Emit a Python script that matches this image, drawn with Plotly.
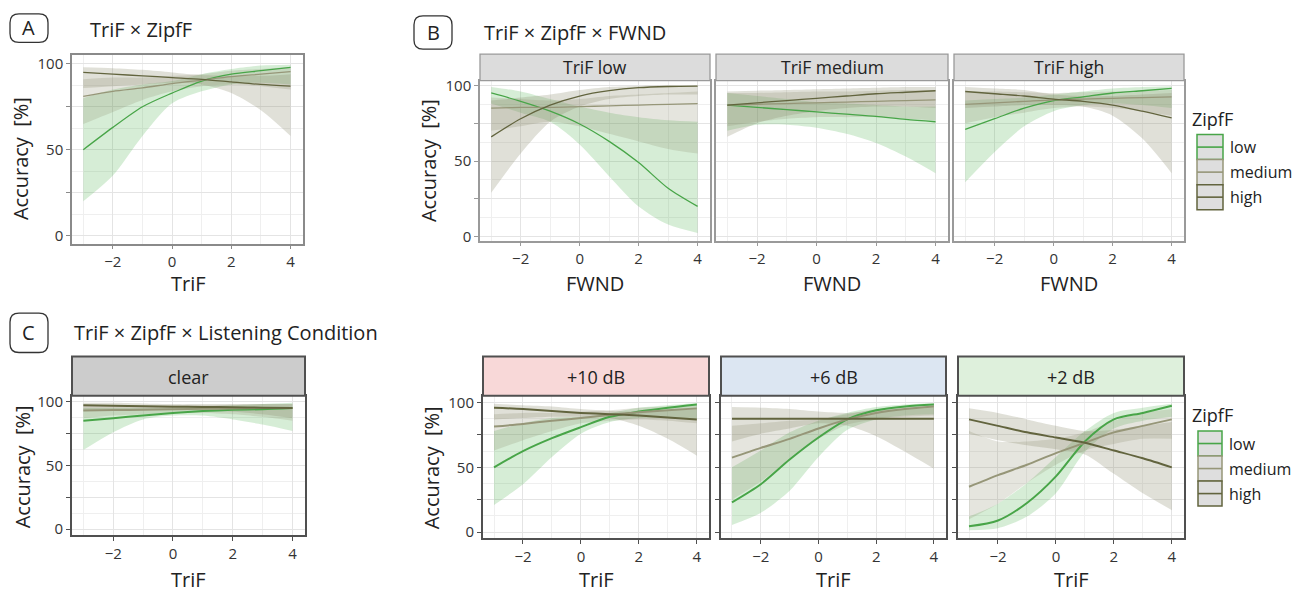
import plotly.graph_objects as go

# ---------------- data ----------------
X = [-3, -2, -1, 0, 1, 2, 3, 4]
groups = ["low", "medium", "high"]

# Panel A: TriF x ZipfF
A_low = [50, 63, 75, 83, 90, 94, 96, 98]
A_low_lo = [20, 35, 58, 77, 84, 88, 89, 88]
A_low_hi = [80, 85, 88, 90, 94, 97, 99, 99.5]
A_med = [81, 84, 86, 88.5, 90.5, 92.5, 94, 95.5]
A_med_lo = [65, 72, 79, 84, 87, 88, 87, 85]
A_med_hi = [91, 92, 92, 93, 94, 96, 97, 98]
A_high = [95, 94, 93, 92, 91, 89.5, 88, 87]
A_high_lo = [86, 87, 88, 89, 88, 83, 73, 58]
A_high_hi = [98, 97.5, 96.5, 95, 93.5, 93, 93, 94]

# Panel B: TriF low / medium / high (x = FWND)
B1_low = [95, 89.5, 83, 74.5, 63, 49, 32, 20]
B1_low_lo = [88, 82, 76, 61, 40, 20, 8, 2.5]
B1_low_hi = [99, 96, 91, 86, 82, 79, 77, 76]
B1_med = [85, 85.5, 85.5, 86, 86.5, 87, 87.5, 88]
B1_med_lo = [70, 73, 76, 73, 68, 63, 58, 55]
B1_med_hi = [92, 91, 90, 91, 93, 94, 95, 96]
B1_high = [66, 78, 87, 93, 96.5, 98.5, 99.3, 99.6]
B1_high_lo = [29, 55, 76, 86, 91, 93, 94, 94]
B1_high_hi = [90, 92, 94, 97, 99, 99.7, 100, 100]

B2_low = [87, 85.5, 84, 82.5, 81, 79.5, 77.5, 76]
B2_low_lo = [70, 74, 74, 72, 68, 62, 53, 42]
B2_low_hi = [95, 93, 91, 89, 88, 87, 86, 86]
B2_med = [87, 87.5, 88, 88.5, 89, 89.5, 90, 90.5]
B2_med_lo = [73, 76, 78, 79, 79, 79, 78, 77]
B2_med_hi = [95, 95, 95.5, 96, 96, 96.5, 97, 97]
B2_high = [87, 88.5, 90, 91.5, 93, 94.5, 95.5, 96.5]
B2_high_lo = [66, 75, 80, 83, 85, 86, 86, 85]
B2_high_hi = [96, 96.5, 97, 97.5, 98, 98.5, 99, 99]

B3_low = [71, 78, 85, 90, 92.5, 95, 96.5, 98]
B3_low_lo = [36, 56, 73, 83, 87, 88, 87, 85]
B3_low_hi = [90, 91, 92, 94, 96, 98, 99, 99.5]
B3_med = [87.5, 88.5, 89.5, 90.5, 91, 91.5, 92, 92.5]
B3_med_lo = [75, 79, 82, 85, 86, 85, 83, 80]
B3_med_hi = [96, 96, 95.5, 95, 95.5, 96, 96.5, 97]
B3_high = [96, 94.5, 93, 91, 89.5, 87, 83, 78.5]
B3_high_lo = [85, 86, 87, 87, 86, 80, 65, 42]
B3_high_hi = [99, 98, 97, 94, 93, 93, 94, 95]

# Panel C: clear / +10 dB / +6 dB / +2 dB (x = TriF)
C1_low = [85, 87, 89, 91, 92.5, 93.5, 94, 95]
C1_low_lo = [62, 76, 86, 89, 89, 86, 82, 77]
C1_low_hi = [95, 95, 95, 95, 96, 97, 98, 99]
C1_med = [93, 93.3, 93.6, 94, 94.3, 94.6, 95, 95]
C1_med_lo = [87, 89, 90, 91, 91, 90, 88, 85]
C1_med_hi = [97, 97, 97, 97, 97, 97.5, 98, 98]
C1_high = [97, 96.7, 96.4, 96, 95.8, 95.5, 95.2, 95]
C1_high_lo = [93, 94, 94, 94, 93, 92, 90, 87]
C1_high_hi = [99, 99, 98.5, 98, 98, 98, 98, 98]

C2_low = [50, 62.5, 72.5, 81, 89, 93, 96, 98.5]
C2_low_lo = [21, 37, 58, 76, 85, 88, 88, 87]
C2_low_hi = [78, 84, 88, 89, 92, 96, 98, 99.5]
C2_med = [81.5, 83.5, 86, 88, 90.5, 92.5, 94, 95.5]
C2_med_lo = [63, 71, 78, 84, 86, 87, 86, 84]
C2_med_hi = [91, 92, 92, 93, 94, 96, 97, 98]
C2_high = [96, 95, 93.5, 92, 91, 90, 88.5, 87]
C2_high_lo = [87, 88, 89, 89, 88, 82, 72, 59]
C2_high_hi = [99, 98, 97, 95, 93.5, 93, 94, 95]

C3_low = [23, 37, 56, 73, 87, 94, 97, 98.5]
C3_low_lo = [5.5, 15, 32, 58, 79, 87, 90, 91]
C3_low_hi = [50, 63, 77, 86, 92, 96.5, 98.5, 99.5]
C3_med = [57.5, 65, 72, 80, 87, 92, 95, 97]
C3_med_lo = [25, 39, 56, 72, 83, 87, 89, 90]
C3_med_hi = [82, 84, 86, 87, 91, 95, 97, 98.5]
C3_high = [87.5, 87.5, 87.5, 87.5, 87.5, 87.5, 87.5, 87.5]
C3_high_lo = [70, 76, 80, 84, 82, 74, 62, 49]
C3_high_hi = [96.5, 96, 95, 93, 92, 94, 95, 96]

C4_low = [4.5, 9, 22.5, 43, 70, 87, 92, 97.5]
C4_low_lo = [1.5, 3, 12, 30, 62, 80, 86, 89]
C4_low_hi = [12, 22, 38, 58, 78, 92, 96, 99]
C4_med = [35, 44, 52, 61, 69, 77, 82, 87]
C4_med_lo = [10, 22, 38, 52, 63, 68, 72, 72]
C4_med_hi = [78, 70, 70, 72, 77, 86, 92, 95]
C4_high = [87, 82, 77, 73, 69, 63, 57, 50]
C4_high_lo = [76, 71, 67, 64, 60, 45, 30, 17]
C4_high_hi = [95.5, 92, 87, 82, 78, 79, 82, 85]

strip_labels_B = ["TriF low", "TriF medium", "TriF high"]
strip_labels_C = ["clear", "+10 dB", "+6 dB", "+2 dB"]

# ---------------- styling ----------------
W, H = 1303, 596
FONT = "Open Sans"
LINE_COL = {"low": "rgb(72,165,72)", "medium": "rgb(150,150,120)", "high": "rgb(98,100,62)"}
FILL_COL = {"low": "rgba(70,175,70,0.22)", "medium": "rgba(135,135,105,0.22)",
            "high": "rgba(135,135,105,0.26)"}


def fx(px):
    return px / W


def fy(py):
    return 1 - py / H


panel_data = {
    "A": [(A_low, A_low_lo, A_low_hi), (A_med, A_med_lo, A_med_hi), (A_high, A_high_lo, A_high_hi)],
    "B1": [(B1_low, B1_low_lo, B1_low_hi), (B1_med, B1_med_lo, B1_med_hi), (B1_high, B1_high_lo, B1_high_hi)],
    "B2": [(B2_low, B2_low_lo, B2_low_hi), (B2_med, B2_med_lo, B2_med_hi), (B2_high, B2_high_lo, B2_high_hi)],
    "B3": [(B3_low, B3_low_lo, B3_low_hi), (B3_med, B3_med_lo, B3_med_hi), (B3_high, B3_high_lo, B3_high_hi)],
    "C1": [(C1_low, C1_low_lo, C1_low_hi), (C1_med, C1_med_lo, C1_med_hi), (C1_high, C1_high_lo, C1_high_hi)],
    "C2": [(C2_low, C2_low_lo, C2_low_hi), (C2_med, C2_med_lo, C2_med_hi), (C2_high, C2_high_lo, C2_high_hi)],
    "C3": [(C3_low, C3_low_lo, C3_low_hi), (C3_med, C3_med_lo, C3_med_hi), (C3_high, C3_high_lo, C3_high_hi)],
    "C4": [(C4_low, C4_low_lo, C4_low_hi), (C4_med, C4_med_lo, C4_med_hi), (C4_high, C4_high_lo, C4_high_hi)],
}

# name: (x0, x1, y0, y1, yrange, ylabels, yticks, border color, border width, line width, tick size)
layout_px = {
    "A": (72, 303, 50, 242, [-4.6, 105.1], True, True, "#8a8a8a", 1.5, 1.3, 15),
    "B1": (480, 710, 76, 239, [-2.6, 103.2], True, True, "#9a9a9a", 1.5, 1.3, 15),
    "B2": (716, 948, 76, 239, [-2.6, 103.2], False, False, "#9a9a9a", 1.5, 1.3, 15),
    "B3": (954, 1184, 76, 239, [-2.6, 103.2], False, False, "#9a9a9a", 1.5, 1.3, 15),
    "C1": (72, 305, 397, 539, [-4.6, 104.6], True, True, "#505050", 2, 2.0, 15),
    "C2": (483, 709, 397, 542, [-4.5, 105.3], True, True, "#505050", 2, 2.0, 15),
    "C3": (721, 946, 397, 542, [-4.5, 105.3], False, True, "#505050", 2, 2.0, 15),
    "C4": (958, 1184, 397, 542, [-4.5, 105.3], False, True, "#505050", 2, 2.0, 15),
}

fig = go.Figure()
lay = {}
for i, (name, spec) in enumerate(layout_px.items(), start=1):
    x0, x1, y0, y1, yr, ylab, ytk, bcol, bw, lw, tks = spec
    xa = "x" if i == 1 else f"x{i}"
    ya = "y" if i == 1 else f"y{i}"
    series = panel_data[name]
    # ribbons
    for g, (m, lo, hi) in zip(groups, series):
        fig.add_trace(go.Scatter(x=X, y=lo, xaxis=xa, yaxis=ya, mode="lines",
                                 line=dict(width=0, shape="spline", smoothing=0.8),
                                 showlegend=False, hoverinfo="skip"))
        fig.add_trace(go.Scatter(x=X, y=hi, xaxis=xa, yaxis=ya, mode="lines",
                                 line=dict(width=0, shape="spline", smoothing=0.8),
                                 fill="tonexty", fillcolor=FILL_COL[g],
                                 showlegend=False, hoverinfo="skip"))
    # mean lines
    for g, (m, lo, hi) in zip(groups, series):
        fig.add_trace(go.Scatter(x=X, y=m, xaxis=xa, yaxis=ya, mode="lines",
                                 line=dict(width=lw, color=LINE_COL[g], shape="spline", smoothing=0.8),
                                 name=g, showlegend=False))
    key = "" if i == 1 else str(i)
    lay["xaxis" + key] = dict(
        domain=[fx(x0), fx(x1)], anchor=ya, range=[-3.38, 4.42],
        tickmode="array", tickvals=[-2, 0, 2, 4], ticks="outside", ticklen=4,
        tickcolor=bcol, tickwidth=1.2, showgrid=True, gridcolor="#e4e4e4", gridwidth=1,
        minor=dict(dtick=1, tick0=0, showgrid=True, gridcolor="#efefef", gridwidth=0.8),
        zeroline=False, showline=True, mirror=True, linecolor=bcol, linewidth=bw,
        tickfont=dict(size=tks, color="#333", family=FONT), fixedrange=True)
    lay["yaxis" + key] = dict(
        domain=[fy(y1), fy(y0)], anchor=xa, range=yr,
        tickmode="array", tickvals=[0, 25, 50, 75, 100], ticktext=["0", "", "50", "", "100"],
        ticks="outside" if ytk else "", ticklen=4, tickcolor=bcol, tickwidth=1.2,
        showticklabels=ylab, showgrid=True, gridcolor="#e4e4e4", gridwidth=1,
        minor=dict(dtick=12.5, tick0=0, showgrid=True, gridcolor="#efefef", gridwidth=0.8),
        zeroline=False, showline=True, mirror=True, linecolor=bcol, linewidth=bw,
        tickfont=dict(size=tks, color="#333", family=FONT), fixedrange=True)

shapes = []
annotations = []


def text(px, py, s, size, xanchor="center", angle=0, color="#222"):
    annotations.append(dict(x=fx(px), y=fy(py), xref="paper", yref="paper", text=s,
                            showarrow=False, xanchor=xanchor, yanchor="middle",
                            textangle=angle, font=dict(size=size, color=color, family=FONT)))


def rrect(x0, y0, x1, y1, r):
    rx, ry = r / W, r / H
    a, b, c, d = fx(x0), fy(y0), fx(x1), fy(y1)
    p = (f"M {a+rx},{b} L {c-rx},{b} Q {c},{b} {c},{b-ry} L {c},{d+ry} Q {c},{d} {c-rx},{d} "
         f"L {a+rx},{d} Q {a},{d} {a},{d+ry} L {a},{b-ry} Q {a},{b} {a+rx},{b} Z")
    shapes.append(dict(type="path", path=p, xref="paper", yref="paper",
                       line=dict(color="#333", width=1.3), fillcolor="rgba(0,0,0,0)"))


def rect(x0, y0, x1, y1, fill, line, lw):
    shapes.append(dict(type="rect", xref="paper", yref="paper", x0=fx(x0), x1=fx(x1),
                       y0=fy(y1), y1=fy(y0), fillcolor=fill, line=dict(color=line, width=lw)))


# panel labels and titles
rrect(10, 8, 48, 37, 9)
text(29, 22, "A", 20)
text(88, 24, "TriF × ZipfF", 20, "left")
rrect(414, 10, 452, 44, 9)
text(433, 27, "B", 20)
text(482, 27, "TriF × ZipfF × FWND", 20, "left")
rrect(10, 313, 48, 353, 9)
text(29, 333, "C", 20)
text(72, 333, "TriF × ZipfF × Listening Condition", 20, "left")

# strips
for (name, lab) in zip(["B1", "B2", "B3"], strip_labels_B):
    x0, x1 = layout_px[name][0], layout_px[name][1]
    rect(x0, 49, x1, 76, "#dcdcdc", "#9a9a9a", 1.3)
    text((x0 + x1) / 2, 62.5, lab, 17.5)
strip_fill_C = ["#cccccc", "#f8d8d8", "#dce6f2", "#def0dc"]
for (name, lab, fc) in zip(["C1", "C2", "C3", "C4"], strip_labels_C, strip_fill_C):
    x0, x1 = layout_px[name][0], layout_px[name][1]
    rect(x0, 357, x1, 397, fc, "#505050", 2)
    text((x0 + x1) / 2, 378, lab, 18)

# axis titles
ytitle = "Accuracy\u00a0 [%]"
text(20, 156, ytitle, 20, angle=-90)
text(428, 158, ytitle, 20, angle=-90)
text(22, 470, ytitle, 20, angle=-90)
text(431, 471, ytitle, 20, angle=-90)
text(188, 283, "TriF", 20)
for name in ["B1", "B2", "B3"]:
    x0, x1 = layout_px[name][0], layout_px[name][1]
    text((x0 + x1) / 2, 283, "FWND", 20)
for name in ["C1", "C2", "C3", "C4"]:
    x0, x1 = layout_px[name][0], layout_px[name][1]
    text((x0 + x1) / 2, 584, "TriF", 20)


# legends
def legend(tx, ty, kx0, kx1, ky0, kh):
    text(tx, ty, "ZipfF", 18, "left")
    for j, g in enumerate(groups):
        a = ky0 + j * kh
        rect(kx0, a, kx1, a + kh, "#dedede", LINE_COL[g], 1.5)
        shapes.append(dict(type="line", xref="paper", yref="paper", x0=fx(kx0), x1=fx(kx1),
                           y0=fy(a + kh / 2), y1=fy(a + kh / 2),
                           line=dict(color=LINE_COL[g], width=1.6)))
        text(kx1 + 5, a + kh / 2, g, 16, "left")


legend(1190, 115, 1197, 1223, 131, 25.5)
legend(1190, 417, 1198, 1222, 433, 25.5)

lay.update(dict(width=W, height=H, margin=dict(l=0, r=0, t=0, b=0),
                paper_bgcolor="white", plot_bgcolor="white",
                font=dict(family=FONT, color="#333"),
                shapes=shapes, annotations=annotations, showlegend=False))
fig.update_layout(**lay)
fig.write_html("out.html", config={"displayModeBar": False},
               post_script="document.body.style.margin='0';document.body.style.overflow='hidden';")
